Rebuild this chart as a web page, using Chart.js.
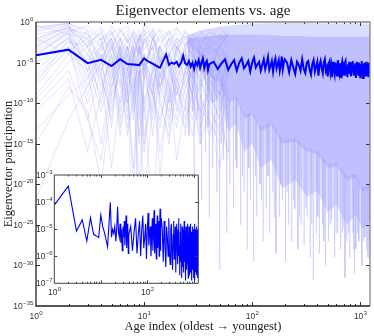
<!DOCTYPE html>
<html>
<head>
<meta charset="utf-8">
<script src="https://cdn.jsdelivr.net/npm/chart.js@4.4.0/dist/chart.umd.min.js"></script>
<style>
html, body { margin: 0; padding: 0; background: #fff; }
#wrap { position: relative; width: 374px; height: 336px; }
#main { position: absolute; left: 0; top: 0; }
#inset { position: absolute; left: 20px; top: 168px; }
</style>
</head>
<body>
<div id="wrap">
  <canvas id="main" width="374" height="336"></canvas>
  <canvas id="inset" width="182" height="140"></canvas>
</div>
<script>
// all values are log10 of the eigenvector element

// thin lines, left part of the plot
const lightX = [1, 2, 3, 4, 5, 6, 7, 8, 9, 10, 12, 14, 17, 20, 24, 28, 33, 40, 50, 60];
const lightLines = [
  [-1.0, -0.2, -2.5, -1.5, -4, -2, -1, -3, -2, -1.5, -3, -2, -1.2, -2.5, -1.8, -2.2, -1.5, -2, -1.5, -2.5],
  [-2.5, -0.5, -4, -6, -3, -5, -8, -4, -3, -6, -2, -4, -7, -3, -5, -2.5, -4, -3, -4, -2.5],
  [-4, -1.5, -7, -3, -9, -2, -5, -12, -6, -4, -8, -3, -6, -9, -4, -7, -5, -6, -8, -5],
  [-6, -2.5, -3, -10, -5, -14, -7, -3, -9, -16, -5, -8, -4, -11, -6, -9, -3, -7, -5, -9],
  [-0.8, -0.1, -1.5, -3, -0.5, -2, -4, -1, -2.5, -0.3, -2, -1, -3, -0.8, -2, -1.5, -3, -1.2, -2, -0.8],
  [-8, -3, -12, -6, -18, -9, -4, -11, -7, -22, -10, -6, -13, -5, -9, -12, -7, -10, -14, -8],
  [-10.3, -6, -12, -17, -8, -5, -10, -7, -14, -9, -25, -8, -11, -6, -14, -8, -11, -9, -12, -16],
  [-3, -1, -5, -2, -8, -4, -2, -6, -3, -7, -2, -5, -3, -8, -2.5, -4, -6, -3, -4, -7],
  [-13.4, -9, -7, -4, -6, -11, -3, -8, -5, -12, -6, -9, -15, -7, -4, -10, -8, -5, -9, -6],
  [-21.8, -12, -8, -5, -10, -6, -14, -9, -20, -7, -11, -5, -9, -13, -8, -6, -11, -12, -15, -10],
  [-2, -4, -1, -6, -2.5, -8, -3, -5, -1.5, -4, -9, -3, -6, -2, -5, -7, -3, -4, -3, -5],
  [-5, -2, -9, -4, -13, -3, -7, -29, -8, -5, -12, -7, -4, -9, -6, -3, -8, -5, -11, -7],
  [-7, -3.5, -2, -8, -4, -10, -6, -3, -12, -5, -7, -16, -9, -4, -7, -11, -5, -9, -6, -12],
  [-1.5, -0.8, -3, -1, -5, -2, -6, -2.5, -1, -3.5, -1.5, -5, -2, -4, -1.2, -3, -2.2, -2.8, -1.5, -3],
  [-9, -4, -6, -15, -7, -3, -12, -8, -5, -10, -6, -19, -8, -10, -13, -6, -9, -14, -10, -17],
  [-3.5, -1.2, -0.5, -2, -7, -3, -1.5, -4, -2, -0.8, -6, -3, -1, -3.5, -2, -5, -2.5, -1.8, -3, -1.5],
  [-11, -7, -16, -9, -4, -13, -8, -18, -6, -11, -4, -10, -14, -8, -12, -9, -15, -11, -13, -9],
  [-4.5, -2, -5, -9, -3, -6, -11, -4, -27, -6, -3, -8, -5, -10, -7, -4, -6, -8, -12, -5],
  [-0.4, -1.5, -2, -0.7, -3, -1.2, -0.5, -2, -4, -1.5, -0.8, -2.5, -1.5, -0.6, -3, -1.8, -1, -2.5, -0.5, -2],
  [-6.5, -3, -10, -5, -2, -12, -6, -9, -3, -14, -8, -4, -12, -7, -10, -5, -13, -8, -6, -11],
  [-2.2, -0.3, -6, -3, -1.2, -4, -10, -3, -7, -2, -5, -9, -4, -6, -3, -8, -4, -6, -2.5, -5],
  [-15, -8, -11, -20, -9, -7, -13, -10, -6, -15, -9, -12, -7, -17, -10, -14, -9, -12, -18, -11],
  [-5.5, -1.8, -4, -7, -11, -5, -3, -9, -6, -4, -14, -6, -10, -3, -8, -6, -12, -7, -9, -4],
  [-3.2, -0.6, -2, -5, -1.5, -3, -6, -1.8, -4, -2.5, -1, -7, -2, -5, -3.5, -2, -4, -6, -3, -1.2],
  [-1.2, -0.4, -3, -2, -1, -4, -2.5, -1.5, -5, -2, -3.5, -1.5, -4, -2, -3, -1.5, -2.5, -3.5, -2, -3],
  [-2.8, -0.9, -1.5, -4.5, -2, -6, -3, -7, -2.5, -5, -3, -8, -4, -2.5, -6, -3.5, -5, -2, -4.5, -6],
  [-4.2, -1.1, -6, -2.5, -5.5, -3, -9, -4, -2, -7, -4.5, -3, -10, -5, -3.5, -8, -4, -6, -9, -3.5],
  [-0.6, -0.2, -1, -2.2, -1.4, -0.7, -2.5, -1.2, -3, -1, -2, -0.8, -1.7, -3.2, -1, -2.4, -1.3, -0.9, -2.1, -1.6],
  [-7.5, -2.2, -5, -11, -6, -4, -8, -20, -7, -5, -9, -13, -6, -8, -11, -5, -7, -10, -6, -12],
  [-3.8, -1.4, -8, -3.5, -2, -5, -4, -10, -3, -6, -2, -4.5, -8, -3, -5, -9, -4, -7, -3, -5.5],
  [-9.5, -5, -3, -6.5, -12, -4, -7, -5, -15, -6, -9, -4.5, -8, -12, -6, -9, -14, -7, -10, -8],
  [-2, -0.7, -2.8, -1.3, -3.5, -0.9, -2.3, -4, -1.6, -2.7, -1.1, -3.8, -2, -1.4, -4.2, -2.5, -1.8, -3, -2.2, -1.5]
];

// the dense mass of lines further right, as envelopes
const bandX = [25, 30, 35, 42, 50, 60, 70, 85, 100, 120, 150, 190, 250, 320, 400, 500, 600, 750, 900, 1050, 1230];
const bandUpper = [-1.6, -1.3, -1.0, -0.8, -0.6, -0.45, -0.35, -0.3, -0.2, -0.2, -0.15, -0.1, -0.1, -0.12, -0.15, -0.2, -0.2, -0.2, -0.2, -0.2, -0.2];
const bandSolidTop = [-2.0, -1.9, -1.8, -1.7, -1.6, -1.55, -1.5, -1.5, -1.5, -1.55, -1.6, -1.65, -1.7, -1.75, -1.8, -1.8, -1.8, -1.8, -1.8, -1.8, -1.8];
const bandSolidBottom = [-2.6, -3.8, -4.5, -7, -7.5, -10, -9.5, -12, -11.5, -13.5, -12.8, -15, -14.8, -16, -16.3, -18, -17.8, -19.5, -19.2, -21, -20.5];
const bandLower = [-3, -5.5, -6.5, -10, -9.5, -13.5, -12.5, -16, -15, -18, -17, -20.5, -19.5, -21.5, -20.8, -23.5, -22.5, -25, -23.8, -25.5, -24.5];

// deep dips below the mass
const spikeX = [26, 28, 29, 31, 33, 34, 37, 39, 40, 43,
  45, 47, 50, 52, 54, 58, 60, 62, 67, 70,
  72, 78, 81, 84, 90, 93, 96, 103, 107, 110,
  118, 122, 126, 135, 140, 145, 155, 160, 166, 178,
  184, 190, 203, 210, 217, 232, 240, 248, 265, 274,
  283, 302, 312, 322, 344, 355, 367, 392, 405, 418,
  446, 460, 476, 508, 525, 542, 578, 597, 617, 658,
  680, 702, 722, 749, 775, 799, 852, 866, 880, 909,
  940, 970, 1035, 1070, 1104, 1140, 1178, 1210];
const spikeDepth = [-14, -11, -19, -12, -15, -22, -16, -13, -24, -18,
  -14, -21, -30.5, -15, -17, -26, -16, -20, -23, -17,
  -18, -25, -19, -21, -28, -18, -22, -29.5, -19, -24,
  -20, -22, -27, -23, -19, -26, -21, -24, -28.5, -24,
  -20, -22, -29.5, -21, -25, -27, -22, -23, -28, -24,
  -25, -27.5, -23, -24, -29, -25, -31.8, -26, -24, -28.5,
  -25, -27, -30, -27, -25, -24.5, -29, -26, -26, -28,
  -26, -25.5, -31.5, -27, -26, -29, -26, -28, -31, -28,
  -26, -27, -30, -27, -26.5, -28, -29, -27];

// the highlighted eigenvector
const darkHead = [-4.11, -3.41, -5.07, -4.66, -5.44, -4.58, -5.19, -5.25, -5.31, -4.48,
  -4.9, -5.13, -5.4, -5.65, -4.8, -4.01, -5.3, -5.0, -5.15, -4.9,
  -5.45, -5.0, -4.17, -5.1, -5.3, -4.8, -5.5, -5.0, -5.8, -4.9,
  -5.3, -4.7, -5.6, -5.0, -4.5, -5.7, -5.1, -4.8, -5.9, -5.2]; // age 1..40
const darkMid = [-4.9, -5.8, -5.1, -4.6, -5.9, -5.2, -4.7, -6.0, -5.0, -4.5,
  -5.7, -5.3, -4.8, -6.1, -5.0, -4.4, -5.6, -5.2, -4.9, -6.0,
  -5.3, -4.6, -5.8, -5.1, -4.3, -5.9, -5.4, -4.8, -6.1, -5.0,
  -4.5, -5.7, -5.2, -4.7, -6.0, -5.3, -4.25, -5.8, -5.0, -4.6]; // age 44..200 step 4
const darkTail = [-5.0, -6.2, -4.7, -5.6, -6.4, -4.9, -5.3, -6.0, -4.6, -5.8,
  -6.3, -5.0, -4.8, -5.9, -6.5, -5.2, -4.7, -6.1, -5.5, -4.9,
  -6.6, -5.3, -4.8, -5.7, -6.3, -5.0, -4.6, -6.0, -5.6, -6.7,
  -5.1, -4.8, -6.2, -5.4, -6.8, -4.9, -5.7, -6.4, -5.0, -5.9,
  -6.6, -4.7, -5.5, -6.2, -5.1, -6.9, -5.3, -4.9, -6.0, -5.6,
  -6.5, -5.0, -4.8, -6.3, -5.7, -6.8, -5.2, -5.9, -4.9, -6.4,
  -5.4, -6.7, -5.0, -6.1, -4.8, -5.8, -6.6, -5.3, -6.0, -5.1,
  -6.9, -5.5, -4.9, -6.3, -5.7, -6.5, -5.0, -6.2, -5.4, -6.8,
  -5.2, -6.0, -4.8, -6.4, -5.6, -6.9, -5.1, -5.8, -6.3, -5.0,
  -6.6, -5.4, -6.1, -4.9, -6.7, -5.5, -6.2, -5.0, -6.8, -5.7,
  -6.3, -5.2, -6.0]; // age 210..1230 step 10

const mainXTicks = [0, 1, 2, 3];
const mainYTicks = [0, -5, -10, -15, -20, -25, -30, -35];
const insetXTicks = [0, 2];
const insetYTicks = [-3, -4, -5, -6, -7];

// ---- build points ----
const darkX = [];
for (let i = 1; i <= 40; i++) darkX.push(i);
for (let i = 44; i <= 200; i += 4) darkX.push(i);
for (let i = 210; i <= 1230; i += 10) darkX.push(i);
const darkPts = darkHead.concat(darkMid, darkTail).map((e, i) => ({x: darkX[i], y: 10 ** e}));

const toPts = (xs, es) => es.map((e, i) => ({x: xs[i], y: 10 ** e}));

// where the solid mass ends at a given age (interpolated in log x)
const solidEdgeAt = x => {
  for (let i = 0; i < bandX.length - 1; i++) {
    if (x <= bandX[i + 1]) {
      const t = (Math.log(x) - Math.log(bandX[i])) / (Math.log(bandX[i + 1]) - Math.log(bandX[i]));
      return bandSolidBottom[i] + t * (bandSolidBottom[i + 1] - bandSolidBottom[i]);
    }
  }
  return bandSolidBottom[bandSolidBottom.length - 1];
};

const spikePts = [];
spikeX.forEach((x, i) => {
  const top = 10 ** (solidEdgeAt(x) + 0.5);
  spikePts.push({x: x / 1.005, y: top});
  spikePts.push({x: x, y: 10 ** spikeDepth[i]});
  spikePts.push({x: x * 1.005, y: top});
  spikePts.push({x: x * 1.005, y: null});
});

const sans = 'Liberation Sans, Arial, sans-serif';
const serif = 'Liberation Serif, DejaVu Serif, serif';

// "10" with a raised exponent, like the mathtext labels
function drawPow(ctx, e, x, y, align, o) {
  const base = '10';
  const exp = String(e).replace('-', '−');
  ctx.font = o.baseSize + 'px ' + sans;
  const wb = ctx.measureText(base).width;
  ctx.font = o.expSize + 'px ' + sans;
  const we = ctx.measureText(exp).width;
  const x0 = align === 'right' ? x - wb - we : x - (wb + we) / 2;
  ctx.textAlign = 'left';
  ctx.textBaseline = 'alphabetic';
  ctx.fillStyle = '#333';
  ctx.font = o.baseSize + 'px ' + sans;
  ctx.fillText(base, x0, y);
  ctx.font = o.expSize + 'px ' + sans;
  ctx.fillText(exp, x0 + wb + 0.3, y - o.baseSize * 0.45);
}

// inward ticks, tick labels, title and the box round the axes
const frame = {
  id: 'frame',
  beforeDraw(chart, args, o) {
    if (!o.bg) return;
    const a = chart.chartArea;
    chart.ctx.fillStyle = o.bg;
    chart.ctx.fillRect(a.left, a.top, a.width, a.height);
  },
  afterDraw(chart, args, o) {
    const {ctx, chartArea: a, scales: {x, y}} = chart;
    ctx.save();
    ctx.lineWidth = 1;
    ctx.strokeStyle = o.tickColor;
    ctx.beginPath();
    const xTick = (v, len) => {
      const px = Math.round(x.getPixelForValue(v)) + 0.5;
      if (px < a.left + 1 || px > a.right - 1) return;
      ctx.moveTo(px, a.bottom); ctx.lineTo(px, a.bottom - len);
      ctx.moveTo(px, a.top); ctx.lineTo(px, a.top + len);
    };
    const yTick = (v, len) => {
      const py = Math.round(y.getPixelForValue(v)) + 0.5;
      if (py < a.top + 1 || py > a.bottom - 1) return;
      ctx.moveTo(a.left, py); ctx.lineTo(a.left + len, py);
      ctx.moveTo(a.right, py); ctx.lineTo(a.right - len, py);
    };
    for (let d = 0; d <= 3; d++) {
      xTick(10 ** d, o.len);
      for (let m = 2; m <= 9; m++) {
        if (m * 10 ** d <= x.max) xTick(m * 10 ** d, o.len / 2);
      }
    }
    y.ticks.forEach(t => yTick(t.value, o.len));
    ctx.stroke();

    ctx.lineWidth = o.spineWidth;
    ctx.strokeStyle = o.farColor;
    ctx.beginPath();
    ctx.moveTo(a.left, a.top); ctx.lineTo(a.right, a.top); ctx.lineTo(a.right, a.bottom);
    ctx.stroke();
    ctx.strokeStyle = o.nearColor;
    ctx.beginPath();
    ctx.moveTo(a.left, a.top); ctx.lineTo(a.left, a.bottom); ctx.lineTo(a.right, a.bottom);
    ctx.stroke();

    x.ticks.forEach(t => drawPow(ctx, Math.round(Math.log10(t.value)), x.getPixelForValue(t.value), a.bottom + o.xLabelDy, 'center', o));
    y.ticks.forEach(t => drawPow(ctx, Math.round(Math.log10(t.value)), a.left - o.yLabelDx, y.getPixelForValue(t.value) + 3, 'right', o));

    if (o.title) {
      ctx.font = o.titleSize + 'px ' + serif;
      ctx.fillStyle = '#222';
      ctx.textAlign = 'center';
      ctx.textBaseline = 'alphabetic';
      ctx.fillText(o.title, (a.left + a.right) / 2, 15);
    }
    ctx.restore();
  }
};

const line = (data, color, width, order, extra) => Object.assign({
  data: data, borderColor: color, borderWidth: width, pointRadius: 0,
  tension: 0, fill: false, order: order, spanGaps: false
}, extra || {});

// ---- main chart ----
const datasets = [];
datasets.push(line(darkPts, '#0000ff', 2, 0));
lightLines.forEach(s => datasets.push(line(toPts(lightX, s), 'rgba(150,150,255,0.26)', 1, 1)));
datasets.push(line(spikePts, 'rgba(160,160,255,0.3)', 1, 2));
const topIdx = datasets.length;
datasets.push(line(toPts(bandX, bandSolidTop), 'rgba(0,0,0,0)', 0, 3));
datasets.push(line(toPts(bandX, bandSolidBottom), 'rgba(0,0,0,0)', 0, 3, {fill: topIdx, backgroundColor: 'rgb(192,192,255)'}));
datasets.push(line(toPts(bandX, bandLower), 'rgba(0,0,0,0)', 0, 3, {fill: topIdx + 1, backgroundColor: 'rgba(192,192,255,0.55)'}));
datasets.push(line(toPts(bandX, bandUpper), 'rgba(0,0,0,0)', 0, 3, {fill: topIdx, backgroundColor: 'rgba(192,192,255,0.55)'}));

new Chart(document.getElementById('main'), {
  type: 'line',
  data: {datasets: datasets},
  plugins: [frame],
  options: {
    responsive: false,
    animation: false,
    devicePixelRatio: 1,
    layout: {padding: {left: 0, right: 4, top: 22, bottom: 0}},
    plugins: {
      legend: {display: false},
      tooltip: {enabled: false},
      frame: {tickColor: '#333', len: 4, spineWidth: 1.3, nearColor: '#222', farColor: '#888',
        baseSize: 8.5, expSize: 6, xLabelDy: 12.5, yLabelDx: 3,
        title: 'Eigenvector elements vs. age', titleSize: 15}
    },
    scales: {
      x: {
        type: 'logarithmic', min: 1, max: 1230,
        afterBuildTicks: s => { s.ticks = mainXTicks.map(e => ({value: 10 ** e})); },
        afterFit: s => { s.height = 30; },
        grid: {display: false}, border: {display: false},
        ticks: {display: false},
        title: {display: true, text: 'Age index (oldest → youngest)', color: '#222',
          font: {family: serif, size: 12.5}, padding: {top: 0, bottom: 2}}
      },
      y: {
        type: 'logarithmic', min: 1e-35, max: 1,
        afterBuildTicks: s => { s.ticks = mainYTicks.map(e => ({value: 10 ** e})); },
        afterFit: s => { s.width = 36; },
        grid: {display: false}, border: {display: false},
        ticks: {display: false},
        title: {display: true, text: 'Eigenvector participation', color: '#222',
          font: {family: serif, size: 12.5}, padding: {top: 1, bottom: 0}}
      }
    }
  }
});

// ---- inset: the highlighted eigenvector alone ----
new Chart(document.getElementById('inset'), {
  type: 'line',
  data: {datasets: [line(darkPts, '#0000ff', 1.1, 0)]},
  plugins: [frame],
  options: {
    responsive: false,
    animation: false,
    devicePixelRatio: 1,
    layout: {padding: {left: 0, right: 3.7, top: 7, bottom: 0}},
    plugins: {
      legend: {display: false},
      tooltip: {enabled: false},
      frame: {bg: '#fff', tickColor: '#444', len: 3, spineWidth: 1, nearColor: '#444', farColor: '#444',
        baseSize: 8.5, expSize: 6, xLabelDy: 12, yLabelDx: 2}
    },
    scales: {
      x: {
        type: 'logarithmic', min: 1, max: 1250,
        afterBuildTicks: s => { s.ticks = insetXTicks.map(e => ({value: 10 ** e})); },
        afterFit: s => { s.height = 24.7; },
        grid: {display: false}, border: {display: false},
        ticks: {display: false}
      },
      y: {
        type: 'logarithmic', min: 1e-7, max: 1e-3,
        afterBuildTicks: s => { s.ticks = insetYTicks.map(e => ({value: 10 ** e})); },
        afterFit: s => { s.width = 34.3; },
        grid: {display: false}, border: {display: false},
        ticks: {display: false}
      }
    }
  }
});
</script>
</body>
</html>
